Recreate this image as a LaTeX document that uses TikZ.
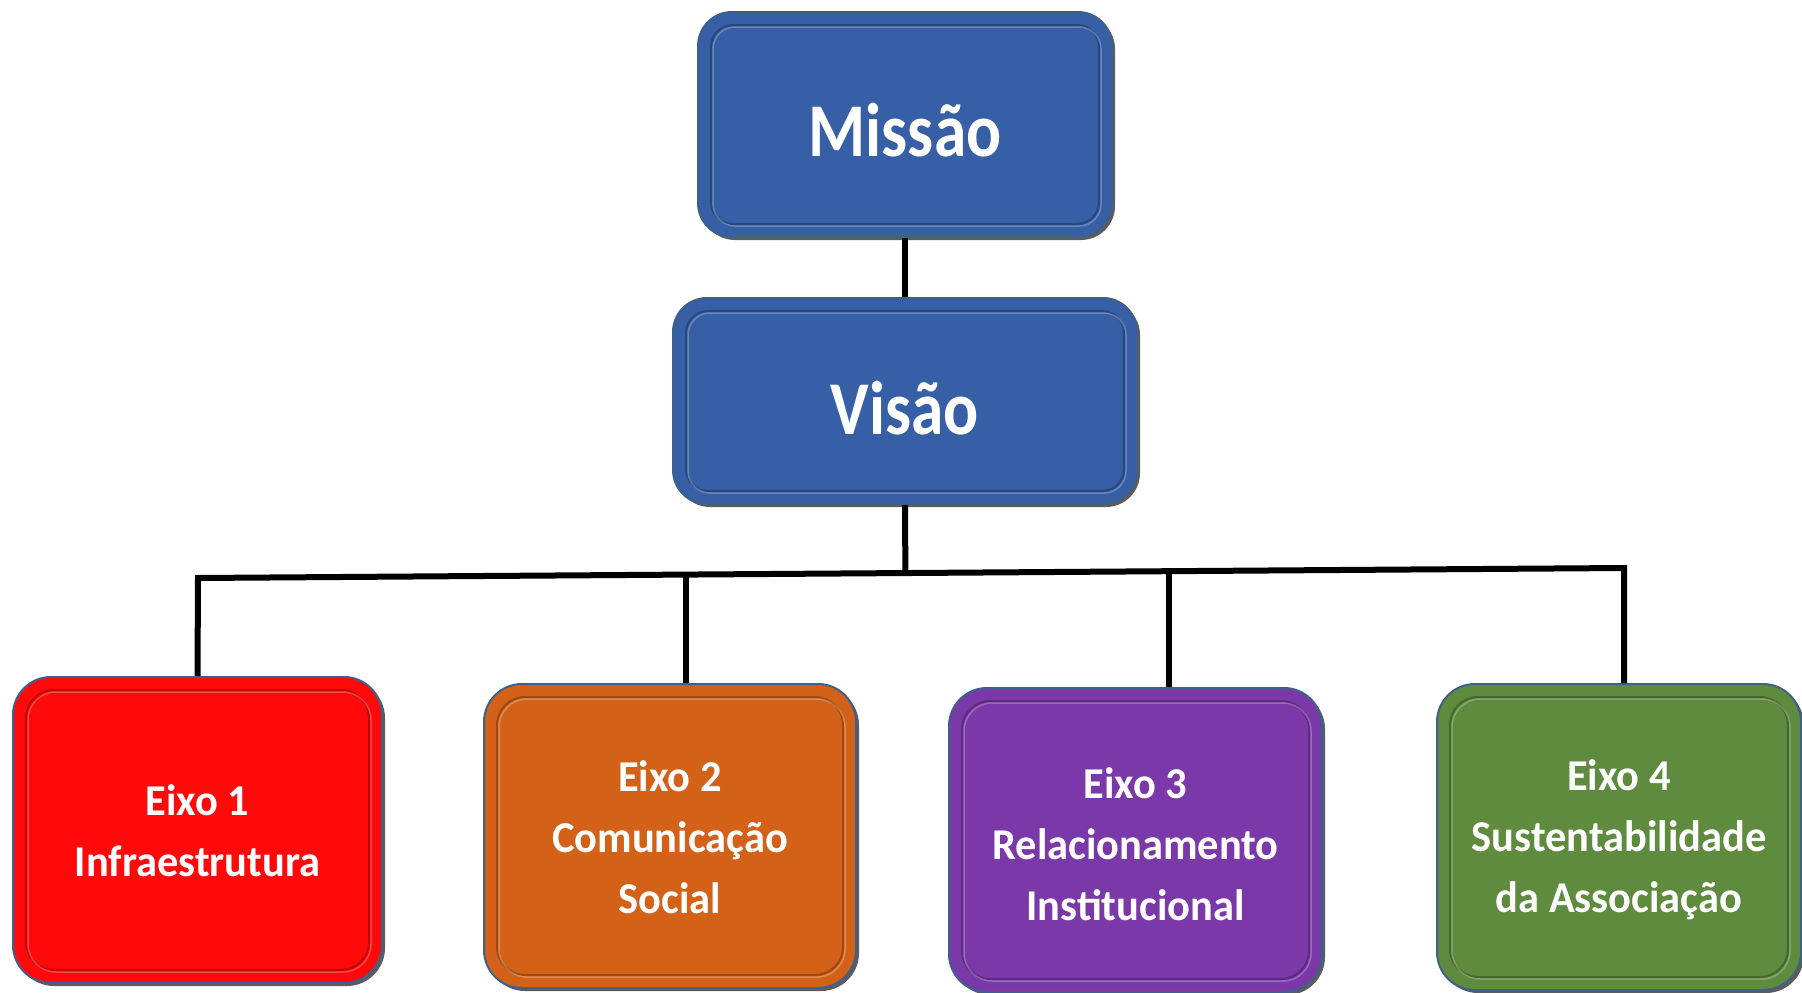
\documentclass[tikz,border=0pt]{standalone}
\usepackage{fontspec}
\setmainfont{Carlito}
\newfontfamily\bigfam[FakeStretch=0.86]{Carlito}
\newfontfamily\smallfam[FakeStretch=0.965]{Carlito}
\usetikzlibrary{shadows,calc}
\definecolor{cblue}{RGB}{54,95,165}
\definecolor{cred}{RGB}{254,10,10}
\definecolor{corange}{RGB}{211,98,24}
\definecolor{cpurple}{RGB}{122,56,168}
\definecolor{cgreen}{RGB}{94,139,61}
\definecolor{edgec}{RGB}{62,96,138}
\newcommand{\lowered}[2]{\raisebox{-#1}[\height][\depth]{#2}}
\begin{document}
\begin{tikzpicture}[x=1pt,y=-1pt,
  box/.style={draw=edgec, line width=2pt, fill=#1, rounded corners=38pt,
    drop shadow={shadow xshift=3pt,shadow yshift=-3pt,opacity=0.75,fill=black!85},
    text=white, align=center, inner sep=0pt},
  bigtxt/.style={font=\bigfam\bfseries\fontsize{76}{80}\selectfont},
  smalltxt/.style={font=\smallfam\bfseries\fontsize{44}{61}\selectfont},
  link/.style={line width=6pt, draw=black, line join=miter}]
\useasboundingbox (0,0) rectangle (1802,993);

\node[box=cblue, bigtxt, minimum width=414pt, minimum height=225pt, rounded corners=34pt] (mis) at (905,124.5) {\lowered{6pt}{Missão}};
\node[box=cblue, bigtxt, minimum width=464pt, minimum height=206pt, rounded corners=34pt] (vis) at (905,401) {\lowered{7pt}{Visão}};

\node[box=cred, smalltxt, minimum width=369pt, minimum height=306pt] (e1) at (197.5,830) {\lowered{4pt}{\begin{tabular}{@{}c@{}}Eixo 1\\Infraestrutura\end{tabular}}};
\node[box=corange, smalltxt, minimum width=372pt, minimum height=304pt] (e2) at (670,836) {\lowered{4.5pt}{\begin{tabular}{@{}c@{}}Eixo 2\\Comunicação\\Social\end{tabular}}};
\node[box=cpurple, smalltxt, minimum width=373pt, minimum height=304pt] (e3) at (1135.5,840) {\lowered{7pt}{\begin{tabular}{@{}c@{}}Eixo 3\\Relacionamento\\Institucional\end{tabular}}};
\node[box=cgreen, smalltxt, minimum width=364pt, minimum height=306pt] (e4) at (1619,837) {\lowered{2.5pt}{\begin{tabular}{@{}c@{}}Eixo 4\\Sustentabilidade\\da Associação\end{tabular}}};

% inner bevel frames
\foreach \n/\c/\r in {mis/cblue/22,vis/cblue/22,e1/cred/28,e2/corange/28,e3/cpurple/28,e4/cgreen/28}{
  \draw[line width=2pt, draw=\c!55!black, opacity=0.55, rounded corners=\r pt]
    ($(\n.north west)+(14,14)$) rectangle ($(\n.south east)+(-14,-14)$);
  \draw[line width=1.5pt, draw=white, opacity=0.25, rounded corners=\r pt]
    ($(\n.north west)+(16,16)$) rectangle ($(\n.south east)+(-12,-12)$);
}

% connectors
\coordinate (bl) at (198,578);
\coordinate (br) at (1624,568);
\coordinate (d2) at (686,574.6);
\coordinate (d3) at (1169,571.2);
\draw[link] (mis.south) -- (vis.north);
\draw[link] (vis.south) -- ($(bl)!(vis.south)!(br)$);
\draw[link] (e1.north) -- (bl) -- (br) -- (br |- e4.north);
\draw[link] (d2) -- (d2 |- e2.north);
\draw[link] (d3) -- (d3 |- e3.north);
\end{tikzpicture}
\end{document}
